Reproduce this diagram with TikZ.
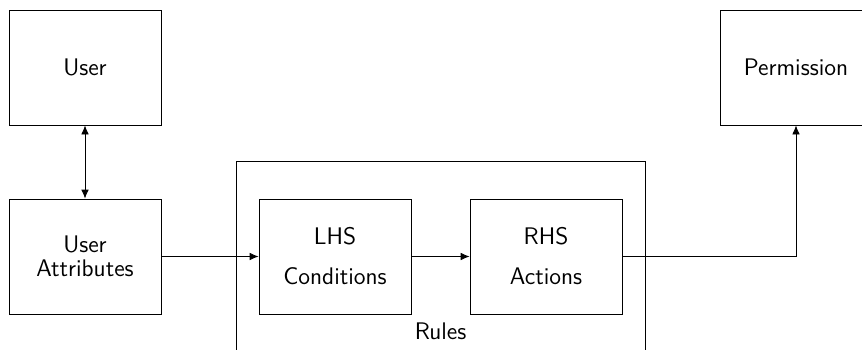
\documentclass[tikz,border=0pt]{standalone}
\usetikzlibrary{arrows.meta}
\begin{document}
\begin{tikzpicture}[x=0.5pt,y=-0.5pt,
  txt/.style={font=\sffamily\fontsize{12}{12}\selectfont},
  box/.style={draw, txt, minimum width=76pt, minimum height=57.5pt, inner sep=0pt,
    align=center},
  tip/.tip={Latex[length=4.5pt,width=3.8pt]},
  link/.style={-tip},
  biglink/.style={tip-tip},
]
\useasboundingbox (0,0) rectangle (862,349);
\clip (0,0) rectangle (862,349);

% rule container, running past the lower edge
\node[draw, minimum width=204.5pt, minimum height=110pt, inner sep=0pt]
  (rules) at (440.5,271) {};
\node[txt, anchor=center] (ruleslabel) at (440.5,331) {Rules};

\node[box] (user) at (85,67.5) {User};
\node[box] (attrs) at (85,256.5) {User\\Attributes};
\node[box] (lhs) at (335,256.5) {LHS\\[8pt]Conditions};
\node[box] (rhs) at (546,256.5) {RHS\\[8pt]Actions};
\node[box] (perm) at (796,67.5) {Permission};

\draw[biglink] (user) -- (attrs);
\draw[link] (attrs) -- (lhs);
\draw[link] (lhs) -- (rhs);
\draw[link] (rhs.east) -| (perm.south);
\end{tikzpicture}
\end{document}
